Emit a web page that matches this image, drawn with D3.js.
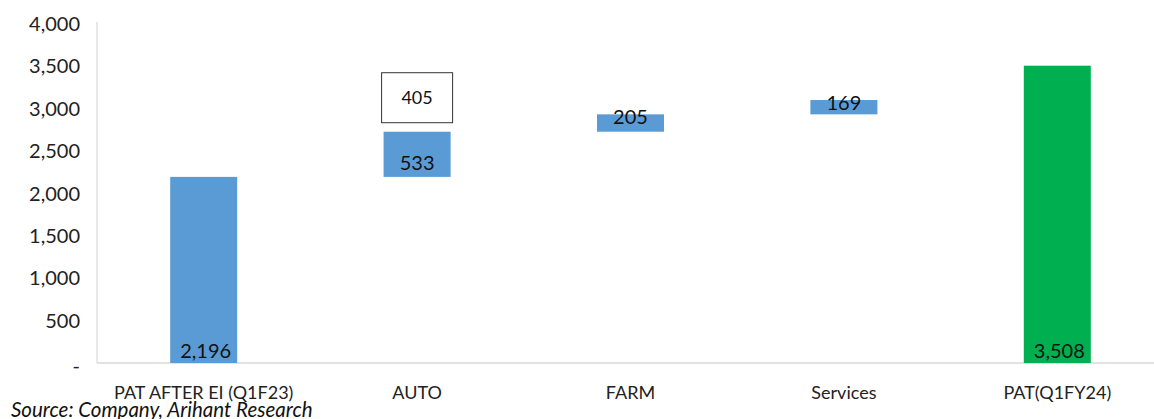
<!DOCTYPE html>
<html><head><meta charset="utf-8">
<script src="https://cdn.jsdelivr.net/npm/d3@7"></script>
<style>body{margin:0;background:#fff;} svg{display:block;font-family:Lato,"Open Sans",sans-serif;}</style>
</head><body>
<svg id="c" width="1154" height="419"></svg>
<script>
const categories = ["PAT AFTER EI (Q1F23)", "AUTO", "FARM", "Services", "PAT(Q1FY24)"];
const values = [2196, 533, 205, 169, 3508];
const kinds = ["total", "delta", "delta", "delta", "total"];
const labels = ["2,196", "533", "205", "169", "3,508"];
const boxNote = {category: "AUTO", value: 405};
const yTicks = [0, 500, 1000, 1500, 2000, 2500, 3000, 3500, 4000];

const svg = d3.select("#c");
const x = d3.scaleBand().domain(categories).range([97, 1164]).paddingInner(0.686).paddingOuter(0.343);
const y = d3.scaleLinear().domain([0, 4000]).range([363, 24]);

let run = 0;
const bars = categories.map((c, i) => {
  let lo, hi;
  if (kinds[i] === "total") { lo = 0; hi = values[i]; run = values[i]; }
  else { lo = run; hi = run + values[i]; run = hi; }
  return {c, lo, hi, kind: kinds[i], label: labels[i], i};
});

// axes lines
svg.append("line").attr("x1", 97).attr("x2", 97).attr("y1", 22).attr("y2", 363).attr("stroke", "#d9d9d9").attr("stroke-width", 1.2);
svg.append("line").attr("x1", 97).attr("x2", 1154).attr("y1", 363).attr("y2", 363).attr("stroke", "#d9d9d9").attr("stroke-width", 1.5);

// y tick labels
svg.append("g").selectAll("text").data(yTicks).join("text")
  .attr("x", 80).attr("y", d => y(d) + (d === 0 ? 3 : 0)).attr("dy", "0.35em")
  .attr("text-anchor", "end").attr("font-size", 20).attr("fill", "#222")
  .text(d => d === 0 ? "-" : d3.format(",")(d));

// bars
svg.append("g").selectAll("rect").data(bars).join("rect")
  .attr("x", d => x(d.c)).attr("width", x.bandwidth())
  .attr("y", d => y(d.hi)).attr("height", d => y(d.lo) - y(d.hi))
  .attr("fill", d => d.i === categories.length - 1 ? "#00B050" : "#5B9BD5");

// bar labels
svg.append("g").selectAll("text").data(bars).join("text")
  .attr("x", d => x(d.c) + x.bandwidth() / 2 + (d.kind === "total" ? 2 : 0))
  .attr("y", d => d.kind === "total" ? y(d.lo) - 5 : (d.c === "AUTO" ? (y(d.lo) + y(d.hi)) / 2 + 16 : y(d.hi) + 10))
  .attr("text-anchor", "middle").attr("font-size", 20).attr("fill", "#111")
  .text(d => d.label);

// annotation box
const ab = bars.find(b => b.c === boxNote.category);
const bx = x(boxNote.category) - 2, bw = x.bandwidth() + 4;
const byTop = y(ab.hi) - 59, bh = 50;
svg.append("rect").attr("x", bx).attr("y", byTop).attr("width", bw).attr("height", bh)
  .attr("fill", "#fff").attr("stroke", "#333").attr("stroke-width", 1);
svg.append("text").attr("x", bx + bw / 2).attr("y", byTop + bh / 2).attr("dy", "0.35em")
  .attr("text-anchor", "middle").attr("font-size", 18).attr("fill", "#111").text(boxNote.value);

// category labels
svg.append("g").selectAll("text").data(categories).join("text")
  .attr("x", d => x(d) + x.bandwidth() / 2).attr("y", 399)
  .attr("text-anchor", "middle").attr("font-size", 18).attr("fill", "#222").text(d => d);

svg.append("text").attr("x", 11).attr("y", 417).attr("font-size", 20.5).attr("font-style", "italic")
  .attr("fill", "#111").text("Source: Company, Arihant Research");
</script>
</body></html>
